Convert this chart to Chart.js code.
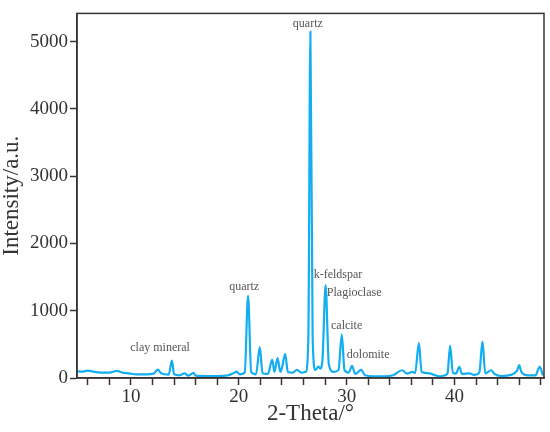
<!DOCTYPE html>
<html>
<head>
<meta charset="utf-8">
<script src="https://cdn.jsdelivr.net/npm/chart.js@4"></script>
<style>
  html, body { margin: 0; padding: 0; background: #fff; }
  .chart-container { position: relative; width: 550px; height: 432px; }
</style>
</head>
<body>
<div class="chart-container">
  <canvas id="xrd"></canvas>
</div>
<script>
// 2-theta (deg) and intensity
const twoTheta = [
  5.0, 5.5, 6.0, 6.5, 7.0, 7.5, 8.0, 8.7, 9.2, 9.8,
  10.5, 11.5, 12.1, 12.5, 12.8, 13.5, 13.8, 14.0, 14.5, 15.0,
  15.3, 15.8, 16.0, 17.0, 18.0, 19.0, 19.5, 19.8, 20.1, 20.55,
  20.86, 21.15, 21.6, 21.95, 22.2, 22.7, 23.1, 23.3, 23.6, 23.85,
  24.05, 24.3, 24.55, 25.0, 25.4, 25.8, 26.2, 26.45, 26.64, 26.85,
  27.1, 27.4, 27.55, 27.75, 28.05, 28.35, 28.8, 29.25, 29.55, 29.8,
  30.2, 30.5, 30.8, 31.35, 31.7, 32.5, 33.5, 34.3, 35.15, 35.6,
  36.1, 36.35, 36.7, 36.95, 37.7, 38.2, 38.6, 39.1, 39.35, 39.6,
  39.85, 40.15, 40.45, 40.7, 41.4, 41.8, 42.3, 42.6, 42.85, 43.4,
  43.7, 44.3, 45.3, 45.8, 46.0, 46.2, 46.8, 47.5, 47.9, 48.2
];
const intensity = [
  100, 95, 110, 95, 85, 80, 80, 105, 80, 70,
  55, 55, 65, 125, 70, 50, 260, 55, 40, 70,
  35, 75, 35, 30, 30, 40, 70, 95, 55, 80,
  1220, 90, 55, 460, 70, 60, 275, 90, 295, 90,
  180, 360, 90, 80, 120, 80, 90, 600, 5150, 600,
  120, 170, 140, 250, 1380, 200, 90, 120, 650, 120,
  80, 180, 60, 120, 40, 25, 25, 40, 115, 65,
  90, 75, 520, 90, 70, 40, 25, 40, 70, 480,
  70, 70, 165, 60, 70, 45, 80, 540, 70, 115,
  60, 30, 50, 110, 190, 90, 40, 40, 165, 40
];

const xTicks = [6, 8, 10, 12, 14, 16, 18, 20, 22, 24, 26, 28, 30, 32, 34, 36, 38, 40, 42, 44, 46, 48];
const xTickLabels = [10, 20, 30, 40];
const yTicks = [0, 1000, 2000, 3000, 4000, 5000];

// phase labels: text and where it sits in data units
const phaseNames = ['quartz', 'quartz', 'clay mineral', 'k-feldspar', 'Plagioclase', 'calcite', 'dolomite'];
const phaseX = [26.4, 20.5, 12.7, 29.2, 30.7, 30.0, 32.0];
const phaseY = [5270, 1360, 450, 1535, 1268, 773, 350];

const axisColor = '#3b3333';
const serif = 'Liberation Serif';

const framePlugin = {
  id: 'frame',
  afterDraw(chart) {
    const { ctx, chartArea: a } = chart;
    ctx.save();
    ctx.strokeStyle = axisColor;
    ctx.lineWidth = 1.5;
    ctx.strokeRect(a.left, a.top, a.right - a.left, a.bottom - a.top);
    ctx.restore();
  }
};

const phaseLabels = {
  id: 'phaseLabels',
  afterDatasetsDraw(chart) {
    const { ctx, scales } = chart;
    ctx.save();
    ctx.font = '12px "' + serif + '"';
    ctx.fillStyle = '#555';
    ctx.textAlign = 'center';
    ctx.textBaseline = 'middle';
    phaseNames.forEach((name, i) => {
      ctx.fillText(name, scales.x.getPixelForValue(phaseX[i]), scales.y.getPixelForValue(phaseY[i]));
    });
    ctx.restore();
  }
};

new Chart(document.getElementById('xrd').getContext('2d'), {
  type: 'line',
  data: {
    datasets: [{
      data: twoTheta.map((t, i) => ({ x: t, y: intensity[i] })),
      borderColor: '#12aef0',
      borderWidth: 2.2,
      pointRadius: 0,
      cubicInterpolationMode: 'monotone',
      fill: false
    }]
  },
  options: {
    responsive: true,
    maintainAspectRatio: false,
    animation: false,
    layout: { padding: { top: 6, right: 6, left: 0, bottom: 0 } },
    plugins: { legend: false, tooltip: { enabled: false } },
    scales: {
      x: {
        type: 'linear',
        min: 5,
        max: 48.3,
        afterBuildTicks: axis => { axis.ticks = xTicks.map(v => ({ value: v })); },
        afterFit: axis => { axis.height = 54; },
        ticks: {
          autoSkip: false,
          maxRotation: 0,
          padding: 1,
          color: '#333',
          font: { family: serif, size: 19 },
          callback: v => xTickLabels.includes(v) ? String(v) : ''
        },
        grid: { drawOnChartArea: false, tickLength: 7, color: axisColor, tickWidth: 1.5 },
        border: { color: axisColor, width: 1.5 },
        title: {
          display: true,
          text: '2-Theta/°',
          color: '#333',
          font: { family: serif, size: 23 },
          padding: { top: 0, bottom: 4 }
        }
      },
      y: {
        min: 0,
        max: 5420,
        afterBuildTicks: axis => { axis.ticks = yTicks.map(v => ({ value: v })); },
        afterFit: axis => { axis.width = 77; },
        ticks: {
          padding: 2,
          color: '#333',
          font: { family: serif, size: 19 },
          callback: v => String(v)
        },
        grid: { drawOnChartArea: false, tickLength: 7, color: axisColor, tickWidth: 1.5 },
        border: { color: axisColor, width: 1.5 },
        title: {
          display: true,
          text: 'Intensity/a.u.',
          color: '#333',
          font: { family: serif, size: 23, lineHeight: 1 },
          padding: { top: 0, bottom: 0 }
        }
      }
    }
  },
  plugins: [framePlugin, phaseLabels]
});
</script>
</body>
</html>
